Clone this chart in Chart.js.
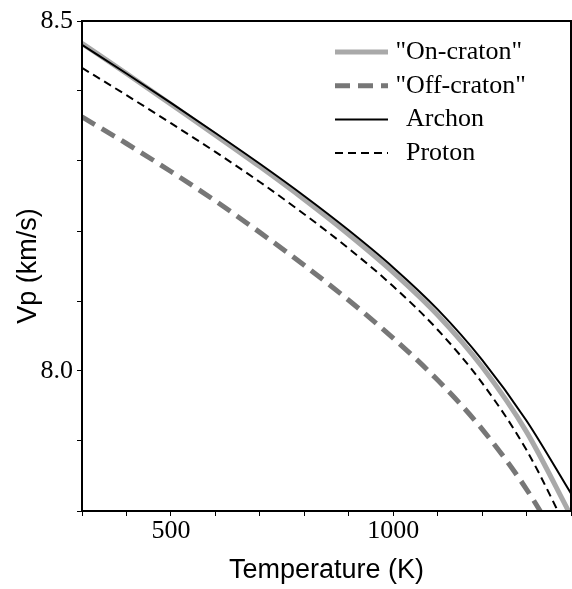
<!DOCTYPE html>
<html>
<head>
<meta charset="utf-8">
<script src="https://cdn.jsdelivr.net/npm/chart.js@4.4.1/dist/chart.umd.min.js"></script>
<style>
  html, body { margin: 0; padding: 0; background: #fff; }
  canvas { display: block; }
</style>
</head>
<body>
<canvas id="vpChart" width="572" height="589"></canvas>
<script>
// Temperature (K) samples
const temps = [300, 400, 500, 600, 700, 800, 900, 1000, 1100, 1200, 1300, 1400];
// Vp (km/s)
const onCraton  = [8.468, 8.425, 8.381, 8.337, 8.292, 8.245, 8.195, 8.141, 8.080, 8.006, 7.913, 7.793];
const offCraton = [8.363, 8.325, 8.285, 8.243, 8.198, 8.151, 8.101, 8.047, 7.987, 7.917, 7.831, 7.725];
const archon    = [8.466, 8.425, 8.383, 8.340, 8.296, 8.250, 8.201, 8.148, 8.088, 8.016, 7.929, 7.825];
const proton    = [8.433, 8.394, 8.354, 8.313, 8.270, 8.224, 8.175, 8.121, 8.059, 7.983, 7.887, 7.762];
const seriesNames = ['"On-craton"', '"Off-craton"', "Archon", "Proton"];
const xLabelTicks = [500, 1000];
const yLabelTicks = [8.0, 8.5];

function pts(values) {
    return temps.map((t, i) => ({ x: t, y: values[i] }));
}

// box round the plot area + legend inside it
const framePlugin = {
    id: "frame",
    afterDatasetsDraw(chart) {
        const ctx = chart.ctx;
        const a = chart.chartArea;
        ctx.save();
        ctx.strokeStyle = "#000";
        ctx.lineWidth = 2;
        ctx.strokeRect(a.left, a.top, a.right - a.left, a.bottom - a.top);

        ctx.font = "26px 'Liberation Serif', 'Times New Roman', serif";
        ctx.textBaseline = "middle";
        ctx.fillStyle = "#000";
        chart.data.datasets.forEach((ds, i) => {
            const y = 52 + i * 33.7;
            ctx.beginPath();
            ctx.strokeStyle = ds.borderColor;
            ctx.lineWidth = ds.borderWidth;
            ctx.setLineDash(ds.borderDash || []);
            ctx.moveTo(335, y);
            ctx.lineTo(388, y);
            ctx.stroke();
            ctx.setLineDash([]);
            let x = 406;
            if (ds.label.startsWith('"')) x -= ctx.measureText('"').width;
            ctx.fillText(ds.label, x, y);
        });
        ctx.restore();
    }
};

const ctx = document.getElementById("vpChart").getContext("2d");
new Chart(ctx, {
    type: "line",
    data: {
        datasets: [
            { label: seriesNames[0], data: pts(onCraton), borderColor: "#a9a9a9", borderWidth: 5, order: 2 },
            { label: seriesNames[1], data: pts(offCraton), borderColor: "#777777", borderWidth: 5, borderDash: [15, 8], order: 3 },
            { label: seriesNames[2], data: pts(archon), borderColor: "#000000", borderWidth: 2, order: 0 },
            { label: seriesNames[3], data: pts(proton), borderColor: "#000000", borderWidth: 2, borderDash: [8, 5], order: 1 }
        ]
    },
    options: {
        responsive: false,
        animation: false,
        devicePixelRatio: 1,
        layout: { padding: { top: 21, right: 1, left: 0, bottom: 0 } },
        elements: {
            point: { radius: 0 },
            line: { cubicInterpolationMode: "monotone", fill: false }
        },
        plugins: {
            legend: { display: false },
            tooltip: { enabled: false }
        },
        scales: {
            x: {
                type: "linear",
                min: 300,
                max: 1400,
                afterFit: s => { s.height = 78; },
                ticks: {
                    stepSize: 100,
                    autoSkip: false,
                    maxRotation: 0,
                    padding: 0,
                    color: "#000",
                    font: { family: "'Liberation Serif', serif", size: 26 },
                    callback: v => xLabelTicks.includes(v) ? String(v) : ""
                },
                grid: { drawOnChartArea: false, tickLength: 5, color: "#000", tickWidth: 1 },
                border: { display: true, color: "#000", width: 2 },
                title: {
                    display: true,
                    text: "Temperature (K)",
                    color: "#000",
                    font: { family: "'Liberation Sans', Arial, sans-serif", size: 27 },
                    padding: { top: 0, bottom: 2 }
                }
            },
            y: {
                type: "linear",
                min: 7.8,
                max: 8.5,
                afterFit: s => { s.width = 82; },
                ticks: {
                    stepSize: 0.1,
                    autoSkip: false,
                    padding: 4,
                    color: "#000",
                    font: { family: "'Liberation Serif', serif", size: 26 },
                    callback: v => yLabelTicks.some(t => Math.abs(t - v) < 1e-6) ? v.toFixed(1) : ""
                },
                grid: { drawOnChartArea: false, tickLength: 5, color: "#000", tickWidth: 1 },
                border: { display: true, color: "#000", width: 2 },
                title: {
                    display: true,
                    text: "Vp (km/s)",
                    color: "#000",
                    font: { family: "'Liberation Sans', Arial, sans-serif", size: 27 },
                    padding: { top: 12, bottom: 0 }
                }
            }
        }
    },
    plugins: [framePlugin]
});
</script>
</body>
</html>
